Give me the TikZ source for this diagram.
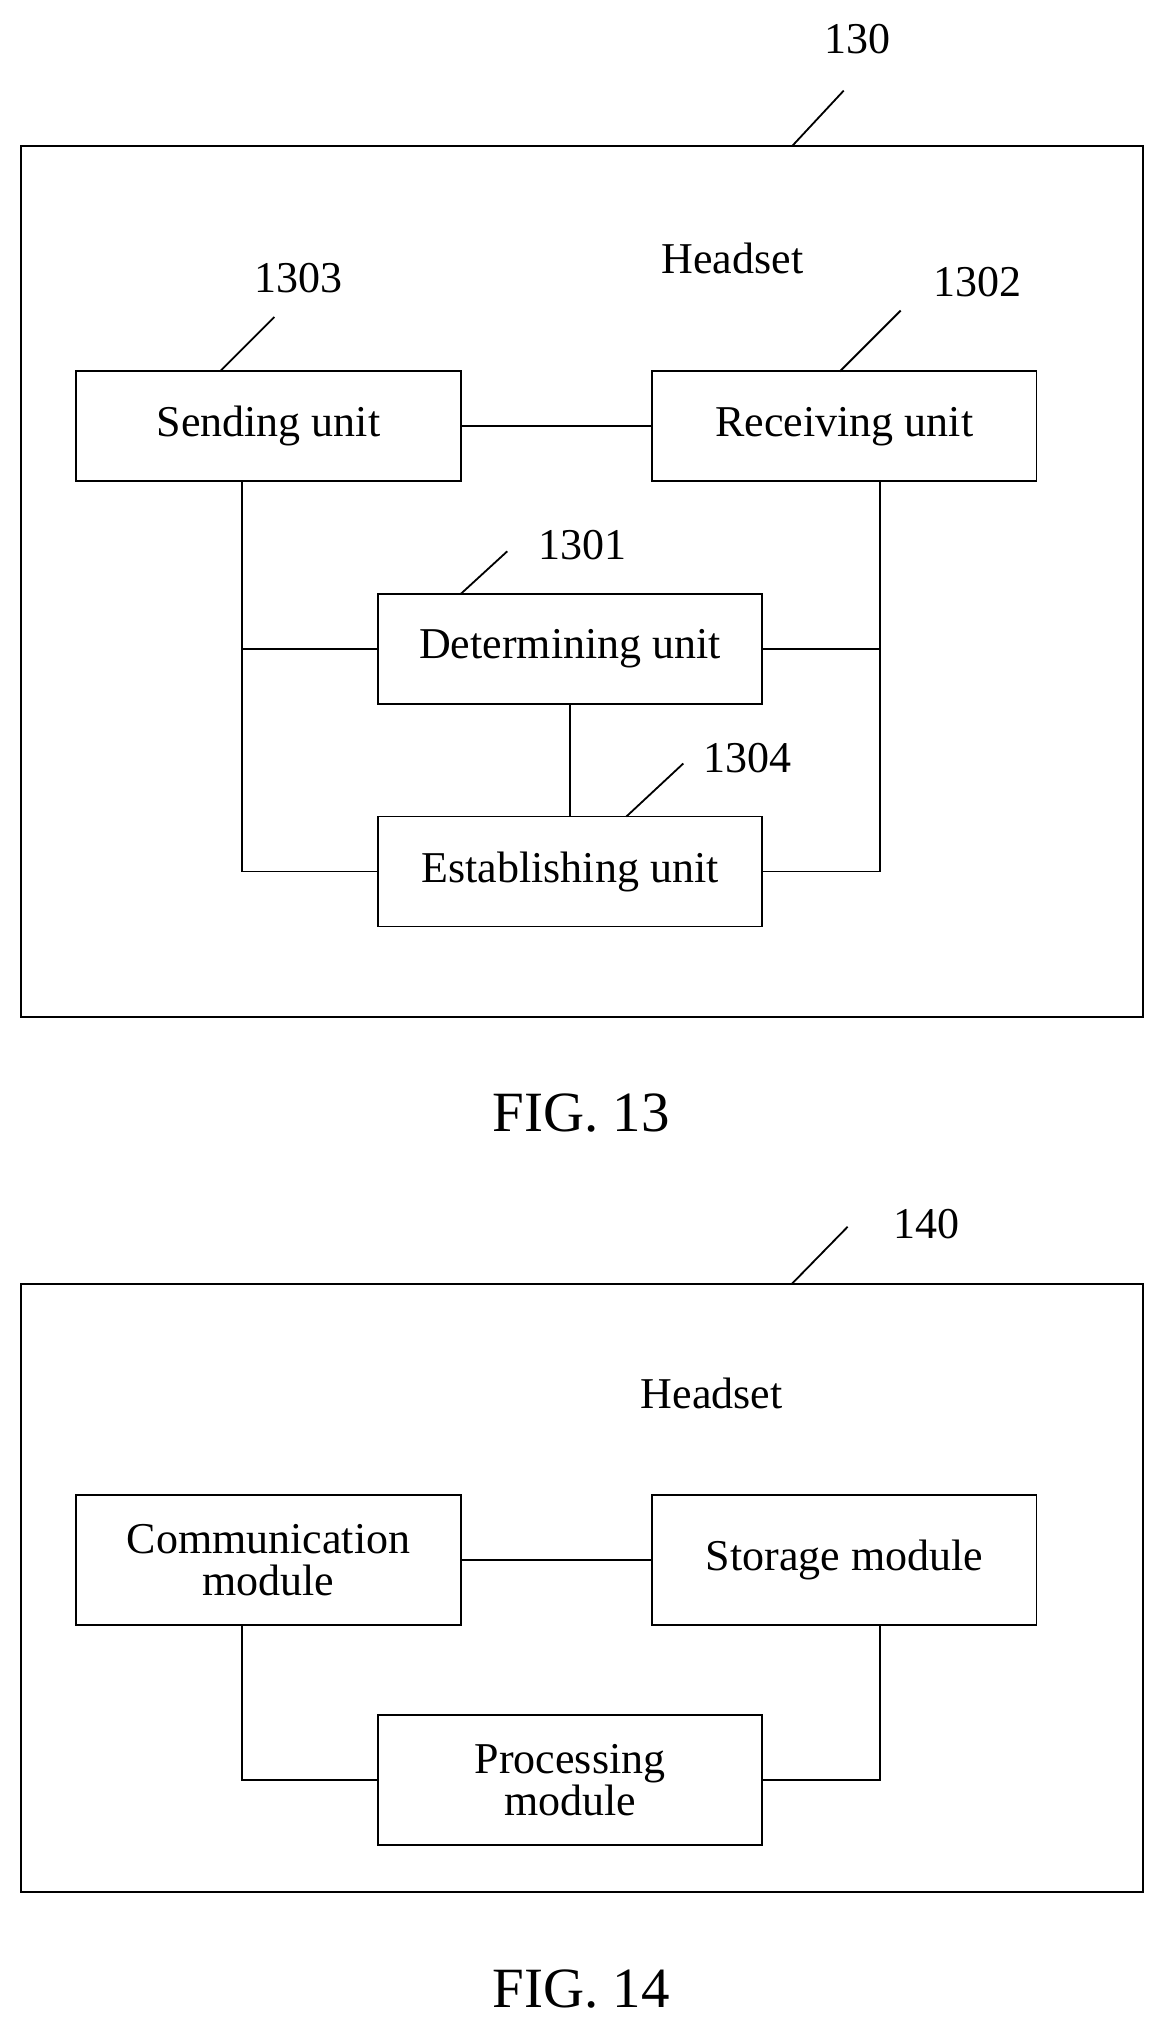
\documentclass[tikz,border=0pt]{standalone}
\usepackage{fontspec}
\setmainfont{Liberation Serif}
\begin{document}
\begin{tikzpicture}[x=1pt,y=-1pt,line width=1.4pt,
  box/.style={draw,minimum width=297pt,minimum height=85pt,inner sep=0pt,align=center,font=\fontsize{34}{38}\selectfont},
  lab/.style={font=\fontsize{34}{38}\selectfont},
  fig/.style={font=\fontsize{44}{48}\selectfont}]
\useasboundingbox (0,0) rectangle (900,1571);
% FIG 13
\node[draw,minimum width=867pt,minimum height=673pt,inner sep=0pt] (o1) at (449.5,449.5) {};
\node[lab] (l130) at (663,30) {130};
\coordinate (s130) at (652,70);
\draw (612,113) -- (s130);
\node[lab] (h1) at (566,200) {Headset};
\node[box] (send) at (207.5,329.5) {Sending unit};
\node[box] (recv) at (652.5,329.5) {Receiving unit};
\node[box] (det) at (440.5,501.5) {Determining unit};
\node[box] (est) at (440.5,673.5) {Establishing unit};
\node[lab] (l1303) at (231,215) {1303};
\node[lab] (l1302) at (755,218) {1302};
\node[lab] (l1301) at (450,421) {1301};
\node[lab] (l1304) at (578,586) {1304};
\coordinate (a1) at (212,245); \draw (170,287) -- (a1);
\coordinate (a2) at (696,240); \draw (649,287) -- (a2);
\coordinate (a3) at (392,426); \draw (356,459) -- (a3);
\coordinate (a4) at (528,590); \draw (484,631) -- (a4);
\draw (send.east) -- (recv.west);
\draw (send.south -| 187,0) -- (187,673.5) -- (est.west);
\draw (187,501.5) -- (det.west);
\draw (recv.south -| 680,0) -- (680,673.5) -- (est.east);
\draw (680,501.5) -- (det.east);
\draw (det.south) -- (est.north);
\node[fig] (f13) at (449,860) {FIG. 13};
% FIG 14
\node[draw,minimum width=867pt,minimum height=470pt,inner sep=0pt] (o2) at (449.5,1227) {};
\node[lab] (l140) at (716,946) {140};
\coordinate (s140) at (655,948);
\draw (612,992) -- (s140);
\node[lab] (h2) at (550,1077) {Headset};
\node[box,minimum height=101pt] (comm) at (207.5,1205.5) {Communication\\[-6pt]module};
\node[box,minimum height=101pt] (stor) at (652.5,1205.5) {Storage module};
\node[box,minimum height=101pt] (proc) at (440.5,1375.5) {Processing\\[-6pt]module};
\draw (comm.east) -- (stor.west);
\draw (comm.south -| 187,0) -- (187,1375.5) -- (proc.west);
\draw (stor.south -| 680,0) -- (680,1375.5) -- (proc.east);
\node[fig] (f14) at (449,1537) {FIG. 14};
\end{tikzpicture}
\end{document}
